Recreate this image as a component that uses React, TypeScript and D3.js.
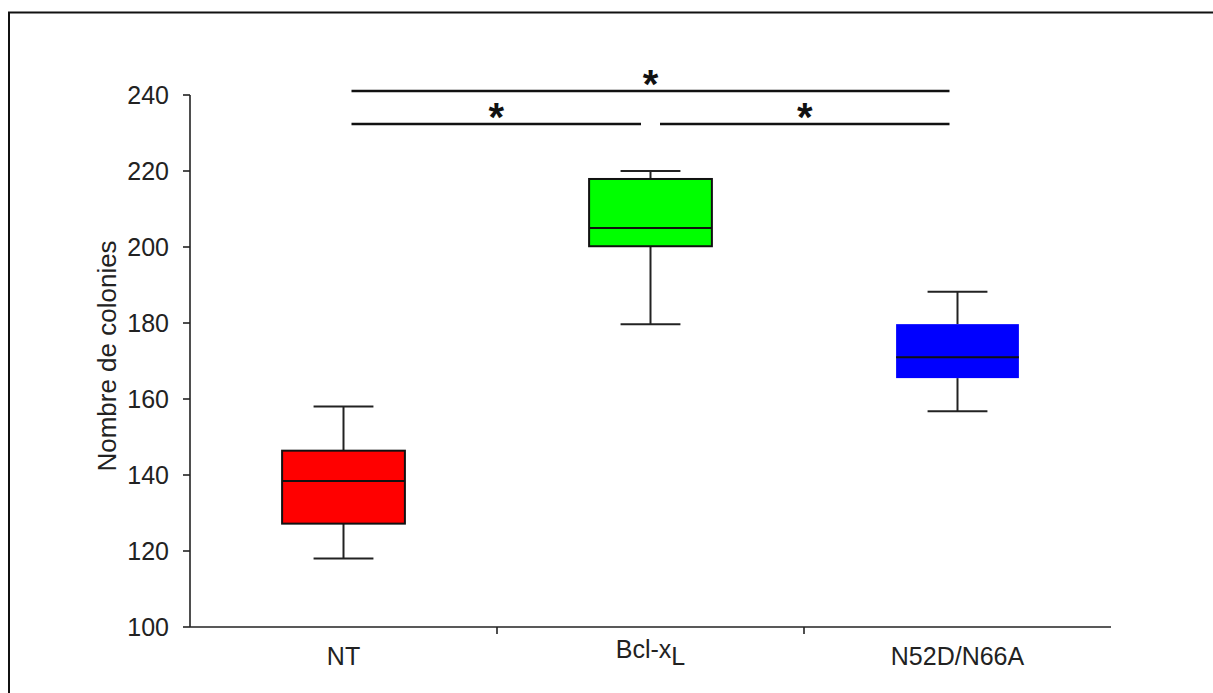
import React from "react";
import * as d3 from "d3";

const categories = ["NT", "Bcl-xL", "N52D/N66A"];
const whiskerLow = [118, 179.7, 156.8];
const q1 = [127.2, 200.2, 165.5];
const medians = [138.4, 205, 171];
const q3 = [146.4, 217.9, 179.7];
const whiskerHigh = [158, 220, 188.2];
const fills = ["#ff0000", "#00ff00", "#0000ff"];
const boxStroke = [true, true, false];
const yTicks = [100, 120, 140, 160, 180, 200, 220, 240];
const comparisons = [
  { from: 0, to: 2, level: 0, label: "*" },
  { from: 0, to: 1, level: 1, label: "*" },
  { from: 1, to: 2, level: 1, label: "*" },
];

export default function App() {
  const W = 1213, H = 693;
  const x0 = 190, x1 = 1111, yTop = 95, yBot = 627;
  const x = d3.scaleBand<string>().domain(categories).range([x0, x1]).paddingInner(0).paddingOuter(0);
  const y = d3.scaleLinear().domain([100, 240]).range([yBot, yTop]);
  const bw = x.bandwidth();
  const boxW = bw * 0.4;
  const capW = bw * 0.195;
  const font = "Liberation Sans, Arial, sans-serif";
  const ink = "#222";
  const fs = 25;
  const center = (i: number) => (x(categories[i]) as number) + bw / 2;
  const levelY = [91, 124];

  return (
    <svg width={W} height={H} style={{ position: "absolute", left: 0, top: 0, background: "#fff" }}>
      <rect x={9} y={12.5} width={1400} height={900} fill="none" stroke="#111" strokeWidth={2} />
      {/* y axis */}
      <line x1={x0} x2={x0} y1={yTop} y2={yBot} stroke={ink} strokeWidth={1.6} />
      {yTicks.map((t) => (
        <g key={t}>
          <line x1={x0 - 7} x2={x0} y1={y(t)} y2={y(t)} stroke={ink} strokeWidth={1.6} />
          <text x={x0 - 21} y={y(t)} dy="0.36em" textAnchor="end" fontFamily={font} fontSize={fs} fill={ink}>
            {t}
          </text>
        </g>
      ))}
      <text
        transform={`translate(116,${(yTop + yBot) / 2 - 5}) rotate(-90)`}
        textAnchor="middle"
        fontFamily={font}
        fontSize={fs + 1}
        fill={ink}
      >
        Nombre de colonies
      </text>
      {/* x axis */}
      <line x1={x0} x2={x1} y1={yBot} y2={yBot} stroke={ink} strokeWidth={1.6} />
      {categories.slice(1).map((c) => (
        <line key={c} x1={x(c)} x2={x(c)} y1={yBot} y2={yBot + 7} stroke={ink} strokeWidth={1.6} />
      ))}
      {categories.map((c, i) =>
        c === "Bcl-xL" ? (
          <text key={c} x={center(i)} y={658} textAnchor="middle" fontFamily={font} fontSize={fs} fill={ink}>
            Bcl-x<tspan dy={7}>L</tspan>
          </text>
        ) : (
          <text key={c} x={center(i)} y={665} textAnchor="middle" fontFamily={font} fontSize={fs} fill={ink}>
            {c}
          </text>
        )
      )}
      {/* boxes */}
      {categories.map((c, i) => {
        const cx = center(i);
        return (
          <g key={c}>
            <line x1={cx} x2={cx} y1={y(whiskerHigh[i])} y2={y(q3[i])} stroke={ink} strokeWidth={2} />
            <line x1={cx} x2={cx} y1={y(q1[i])} y2={y(whiskerLow[i])} stroke={ink} strokeWidth={2} />
            <line x1={cx - capW / 2} x2={cx + capW / 2} y1={y(whiskerHigh[i])} y2={y(whiskerHigh[i])} stroke={ink} strokeWidth={2} />
            <line x1={cx - capW / 2} x2={cx + capW / 2} y1={y(whiskerLow[i])} y2={y(whiskerLow[i])} stroke={ink} strokeWidth={2} />
            <rect
              x={cx - boxW / 2}
              y={y(q3[i])}
              width={boxW}
              height={y(q1[i]) - y(q3[i])}
              fill={fills[i]}
              stroke={boxStroke[i] ? "#111" : "none"}
              strokeWidth={2}
            />
            <line x1={cx - boxW / 2} x2={cx + boxW / 2} y1={y(medians[i])} y2={y(medians[i])} stroke="#111" strokeWidth={2} />
          </g>
        );
      })}
      {/* significance */}
      {comparisons.map((cmp, k) => {
        const gap = cmp.level === 1 ? 1.5 : 0;
        const xa = center(cmp.from) + 8 + (cmp.from === 1 ? gap : 0);
        const xb = center(cmp.to) - 8 - (cmp.to === 1 ? gap : 0);
        const ly = levelY[cmp.level];
        return (
          <g key={k}>
            <line x1={xa} x2={xb} y1={ly} y2={ly} stroke="#111" strokeWidth={2.5} />
            <text x={(xa + xb) / 2} y={ly + 7} textAnchor="middle" fontFamily={font} fontWeight="bold" fontSize={40} fill="#111">
              {cmp.label}
            </text>
          </g>
        );
      })}
    </svg>
  );
}
